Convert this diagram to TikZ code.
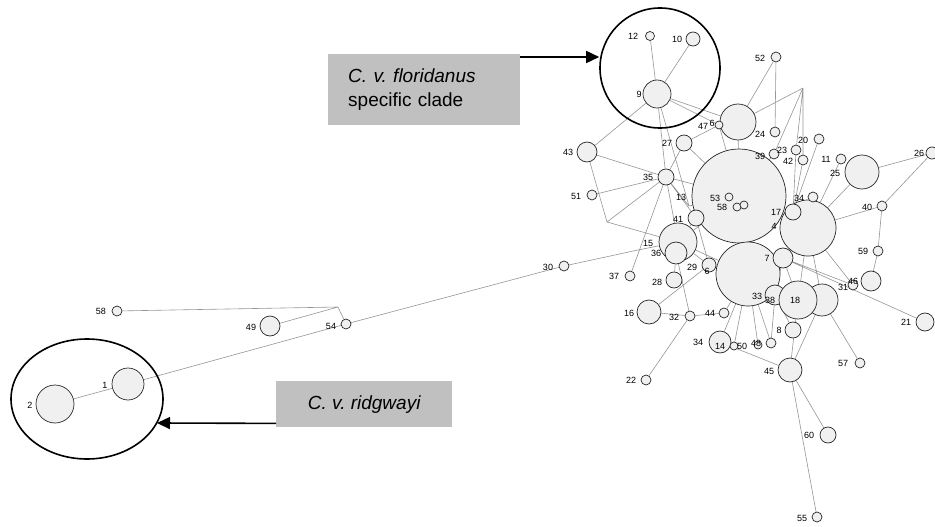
\documentclass[tikz,border=0pt]{standalone}
\usepackage{fontspec}
\setmainfont{Liberation Sans}
\usetikzlibrary{arrows.meta,shapes.geometric,backgrounds}
\definecolor{hapfill}{HTML}{F0F0F0}
\definecolor{linkgray}{HTML}{959595}
\definecolor{tagfill}{HTML}{C0C0C0}
\frenchspacing
\tikzset{
  hap/.style={circle, draw=black!85, line width=0.7pt, fill=hapfill, inner sep=0pt, minimum size=#1},
  lab/.style={inner sep=0pt, font=\fontsize{9}{9}\selectfont},
  link/.style={draw=linkgray, line width=0.6pt},
  clade/.style={draw=black, line width=1.6pt},
  tag/.style={fill=tagfill, inner sep=0pt, font=\fontsize{19}{24}\selectfont},
  pointer/.style={draw=black, line width=1.6pt, -{Triangle[length=13pt,width=12pt]}}
}
\begin{document}
\begin{tikzpicture}[x=1pt,y=-1pt]
\useasboundingbox (0,0) rectangle (935,527);

% ---- haplotype circles (larger first) ----
\node[hap=94pt] (hM) at (739,196) {};
\node[hap=64pt] (hC) at (748,274) {};
\node[hap=56pt] (h4) at (808,228) {};
\node[hap=36pt] (hB) at (738,122) {};
\node[hap=28pt] (h9) at (657,94) {};
\node[hap=14pt] (h10) at (693,39) {};
\node[hap=9pt] (h12) at (650,36) {};
\node[hap=20pt] (h43) at (587,152) {};
\node[hap=16pt] (h27) at (684,143) {};
\node[hap=8pt] (h47) at (719,125) {};
\node[hap=10pt] (h52) at (776,57) {};
\node[hap=10pt] (h24) at (775,132) {};
\node[hap=10pt] (h20) at (819,139) {};
\node[hap=10pt] (h39) at (774,154) {};
\node[hap=10pt] (h23) at (796,150) {};
\node[hap=10pt] (h42) at (803,160) {};
\node[hap=10pt] (h11) at (841,159) {};
\node[hap=34pt] (h25) at (862,172) {};
\node[hap=12pt] (h26) at (932,153) {};
\node[hap=10pt] (h40) at (882,206) {};
\node[hap=10pt] (h34) at (813,197) {};
\node[hap=16pt] (h17) at (793,212) {};
\node[hap=8pt] (h53) at (729,197) {};
\node[hap=8pt] (h58a) at (737,207) {};
\node[hap=8pt] (h58b) at (744,205) {};
\node[hap=16pt] (h35) at (666,177) {};
\node[hap=10pt] (h51) at (592,195) {};
\node[hap=16pt] (h41) at (696,218) {};
\node[hap=38pt] (h15) at (678,242) {};
\node[hap=22pt] (h36) at (676,253) {};
\node[hap=14pt] (h6b) at (709,265) {};
\node[hap=10pt] (h37) at (630,276) {};
\node[hap=10pt] (h30) at (564,266) {};
\node[hap=16pt] (h28) at (674,280) {};
\node[hap=20pt] (h7) at (783,258) {};
\node[hap=24pt] (h16) at (649,312) {};
\node[hap=10pt] (h32) at (690,316) {};
\node[hap=10pt] (h44) at (724,313) {};
\node[hap=32pt] (hR) at (822,300) {};
\node[hap=20pt] (h33) at (775,295) {};
\node[hap=38pt] (h18) at (798,300) {};
\node[hap=10pt] (h31) at (853,285) {};
\node[hap=20pt] (h46) at (871,281) {};
\node[hap=10pt] (h59) at (878,251) {};
\node[hap=18pt] (h21) at (925,322) {};
\node[hap=10pt] (h57) at (860,363) {};
\node[hap=16pt] (h8) at (793,330) {};
\node[hap=24pt] (h45) at (790,370) {};
\node[hap=22pt] (h14) at (720,342) {};
\node[hap=8pt] (h50) at (734,346) {};
\node[hap=8pt] (h48) at (758,345) {};
\node[hap=10pt] (h48b) at (771,343) {};
\node[hap=10pt] (h22) at (646,380) {};
\node[hap=16pt] (h60) at (828,435) {};
\node[hap=10pt] (h55) at (817,517) {};
\node[hap=10pt] (h58) at (117,311) {};
\node[hap=20pt] (h49) at (270,326) {};
\node[hap=10pt] (h54) at (346,324) {};
\node[hap=32pt] (h1) at (128,384) {};
\node[hap=38pt] (h2) at (55,404) {};

% ---- median vertices ----
\coordinate (j1) at (607,222);
\coordinate (j2) at (338,307);
\coordinate (j3) at (803,88);
\coordinate (j4) at (638,250);
\coordinate (j13) at (689,206);

% ---- labels ----
\node[lab] (t12) at (633,36) {12};
\node[lab] (t10) at (677,39) {10};
\node[lab] (t9) at (639,94) {9};
\node[lab] (t43) at (568,152) {43};
\node[lab] (t27) at (667,143) {27};
\node[lab] (t47) at (703,126) {47};
\node[lab] (t6) at (712,123) {6};
\node[lab] (t52) at (760,58) {52};
\node[lab] (t24) at (760,134) {24};
\node[lab] (t20) at (803,140) {20};
\node[lab] (t39) at (760,156) {39};
\node[lab] (t23) at (782,150) {23};
\node[lab] (t42) at (788,161) {42};
\node[lab] (t11) at (826,159) {11};
\node[lab] (t25) at (835,173) {25};
\node[lab] (t26) at (919,153) {26};
\node[lab] (t40) at (867,207) {40};
\node[lab] (t34a) at (799,198) {34};
\node[lab] (t17) at (776,212) {17};
\node[lab] (t4) at (774,226) {4};
\node[lab] (t53) at (715,198) {53};
\node[lab] (t58a) at (722,207) {58};
\node[lab] (t35) at (648,177) {35};
\node[lab] (t51) at (576,196) {51};
\node[lab] (t13) at (681,197) {13};
\node[lab] (t41) at (678,219) {41};
\node[lab] (t15) at (648,243) {15};
\node[lab] (t36) at (656,253) {36};
\node[lab] (t29) at (692,267) {29};
\node[lab] (t6b) at (707,271) {6};
\node[lab] (t37) at (614,276) {37};
\node[lab] (t30) at (548,267) {30};
\node[lab] (t28) at (657,282) {28};
\node[lab] (t7) at (767,258) {7};
\node[lab] (t16) at (629,313) {16};
\node[lab] (t32) at (674,317) {32};
\node[lab] (t44) at (710,313) {44};
\node[lab] (t33) at (757,296) {33};
\node[lab] (t38) at (770,300) {38};
\node[lab] (t18) at (795,300) {18};
\node[lab] (t31) at (843,287) {31};
\node[lab] (t46) at (853,281) {46};
\node[lab] (t59) at (863,251) {59};
\node[lab] (t21) at (906,322) {21};
\node[lab] (t57) at (843,363) {57};
\node[lab] (t8) at (779,330) {8};
\node[lab] (t45) at (769,371) {45};
\node[lab] (t34) at (698,342) {34};
\node[lab] (t14) at (720,346) {14};
\node[lab] (t50) at (742,346) {50};
\node[lab] (t48) at (756,343) {48};
\node[lab] (t22) at (631,380) {22};
\node[lab] (t60) at (809,435) {60};
\node[lab] (t55) at (802,518) {55};
\node[lab] (t58) at (101,311) {58};
\node[lab] (t49) at (251,327) {49};
\node[lab] (t54) at (331,326) {54};
\node[lab] (t1) at (105,385) {1};
\node[lab] (t2) at (30,405) {2};

% ---- network links ----
\begin{scope}[on background layer]
\draw[link] (h12)--(h9) (h10)--(h9) (h9)--(h43) (h9)--(hB) (h9)--(h47)
  (h9)--(h35) (h9)--(j13)
  (h43)--(h35) (h43)--(j1) (j1)--(h35) (j1)--(h15) (h51)--(h35)
  (h27)--(h35) (h27)--(h47) (h27)--(hM)
  (h35)--(hM) (h35)--(j13) (h35)--(h41) (h35)--(h15) (h35)--(h37) (j13)--(hM)
  (h30)--(j4) (j4)--(h15)
  (h54)--(h30) (h1)--(h54) (h1)--(h2) (h58)--(j2) (h49)--(j2) (j2)--(h54)
  (hB)--(hM) (h47)--(hM) (hB)--(h52) (h52)--(h24)
  (hB)--(j3) (j3)--(h39) (j3)--(h23) (j3)--(h42) (j3)--(t20.north)
  (h39)--(hM) (h23)--(h17) (h42)--(h17) (h20)--(h17)
  (h11)--(h4) (h25)--(h4) (h25)--(h26) (h26)--(h40) (h40)--(h4) (h40)--(h59) (h59)--(h46)
  (h4)--(h31) (h7)--(h31) (h7)--(h21) (h4)--(h7) (hC)--(h7) (h7)--(h18) (h7)--(h33)
  (h4)--(h18) (h4)--(hR)
  (h41)--(hM) (h41)--(h15) (h15)--(hM) (h15)--(hC) (h6b)--(hC) (h6b)--(h15) (h6b)--(h41)
  (h36)--(h28) (h36)--(h32) (h16)--(h6b) (h16)--(h32) (h32)--(h44) (h32)--(h22) (h44)--(hC)
  (hC)--(h14) (hC)--(h50) (hC)--(h48) (hC)--(h48b) (h33)--(h48b) (h33)--(h8)
  (h14)--(h45) (h18)--(h45) (hR)--(h45) (h45)--(h60) (h45)--(h55) (hR)--(h57);
\end{scope}

% ---- clade outlines and their tags ----
\node[clade, circle, minimum size=120pt, inner sep=0pt] (clF) at (660,68) {};
\node[clade, ellipse, minimum width=152pt, minimum height=120pt, inner sep=0pt] (clR) at (87,399) {};

\node[tag, minimum width=192pt, minimum height=71pt, anchor=north west, align=left, text width=152pt]
  (tagF) at (328,54) {\itshape C. v. floridanus\\\upshape specific clade};
\node[tag, minimum width=176pt, minimum height=46pt, anchor=north west]
  (tagR) at (276,381) {\itshape C. v. ridgwayi\hspace{6pt}};

\coordinate (aF) at ([yshift=-3pt]tagF.north east);
\draw[pointer] (aF) -- (aF -| clF.west);
\coordinate (aR) at ([yshift=4pt]tagR.south west);
\draw[pointer] (aR) -- (157,423);
\end{tikzpicture}
\end{document}
